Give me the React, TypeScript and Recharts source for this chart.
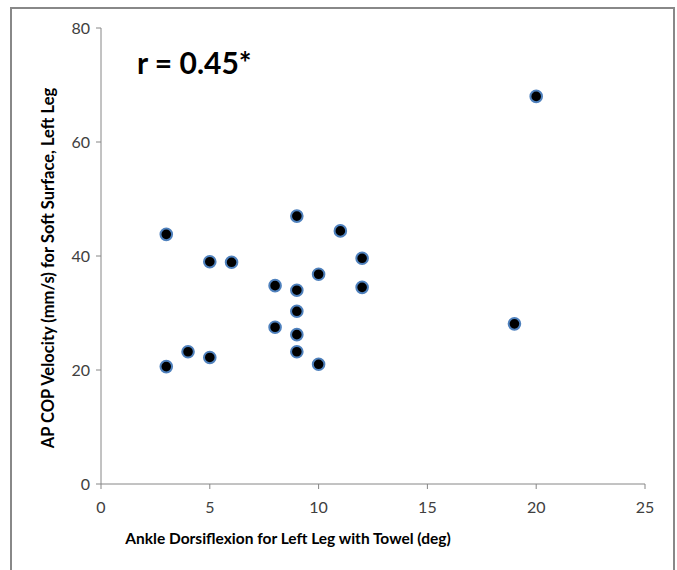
import React from "react";
import { ScatterChart, Scatter, XAxis, YAxis } from "recharts";

const dorsiflexion = [3, 3, 4, 5, 5, 6, 8, 8, 9, 9, 9, 9, 9, 10, 10, 11, 12, 12, 19, 20];
const apVelocity = [20.6, 43.8, 23.2, 39, 22.2, 38.9, 34.8, 27.5, 47, 34, 30.3, 26.2, 23.2, 36.8, 21, 44.4, 39.6, 34.5, 28.1, 68];
const xTicks = [0, 5, 10, 15, 20, 25];
const yTicks = [0, 20, 40, 60, 80];
const xTitle = "Ankle Dorsiflexion for Left Leg with Towel (deg)";
const yTitle = "AP COP Velocity (mm/s) for Soft Surface, Left Leg";
const annotation = "r = 0.45*";

const data = dorsiflexion.map((x, i) => ({ x, y: apVelocity[i] }));

const FONT = "Lato, 'Open Sans', sans-serif";
const AXIS = "#868686";

const Dot = (props: any) => {
  const { cx, cy } = props;
  if (cx == null || cy == null) return null;
  return <circle cx={cx} cy={cy} r={5.8} fill="#000" stroke="#4f81bd" strokeWidth={2} />;
};

const YLabel = () => {
  const cx = 48;
  const cy = 268;
  return (
    <text
      x={cx}
      y={cy}
      transform={`rotate(-90 ${cx} ${cy})`}
      textAnchor="middle"
      dominantBaseline="central"
      fontFamily={FONT}
      fontWeight="bold"
      fontSize={16.5}
      fill="#000"
    >
      {yTitle}
    </text>
  );
};

const XLabel = () => (
  <text
    x={288}
    y={538}
    textAnchor="middle"
    dominantBaseline="central"
    fontFamily={FONT}
    fontWeight="bold"
    fontSize={15.5}
    fill="#000"
  >
    {xTitle}
  </text>
);

export default function App() {
  return (
    <div style={{ position: "absolute", left: 0, top: 0, width: 677, height: 570, background: "#fff", overflow: "hidden" }}>
      <div
        style={{
          position: "absolute",
          left: 10,
          top: 7,
          width: 665,
          height: 580,
          border: "2px solid #888",
          boxSizing: "border-box",
        }}
      />
      <div style={{ position: "absolute", left: 0, top: 0 }}>
        <ScatterChart width={677} height={570} margin={{ top: 28, right: 32, bottom: 36, left: 41 }}>
          <XAxis
            type="number"
            dataKey="x"
            domain={[0, 25]}
            ticks={xTicks}
            interval={0}
            height={50}
            stroke={AXIS}
            tickLine={{ stroke: AXIS }}
            tickSize={5}
            tickMargin={13}
            tick={{ fill: "#404040", fontFamily: FONT, fontSize: 16 }}
            label={<XLabel />}
          />
          <YAxis
            type="number"
            dataKey="y"
            domain={[0, 80]}
            ticks={yTicks}
            interval={0}
            width={60}
            stroke={AXIS}
            tickLine={{ stroke: AXIS }}
            tickSize={5}
            tickMargin={6}
            tick={{ fill: "#404040", fontFamily: FONT, fontSize: 16 }}
            label={<YLabel />}
          />
          <Scatter data={data} shape={<Dot />} isAnimationActive={false} />
        </ScatterChart>
      </div>
      <div
        style={{
          position: "absolute",
          left: 137,
          top: 44,
          fontFamily: FONT,
          fontWeight: "bold",
          fontSize: 30,
          lineHeight: "36px",
          color: "#000",
          whiteSpace: "nowrap",
        }}
      >
        {annotation}
      </div>
    </div>
  );
}
